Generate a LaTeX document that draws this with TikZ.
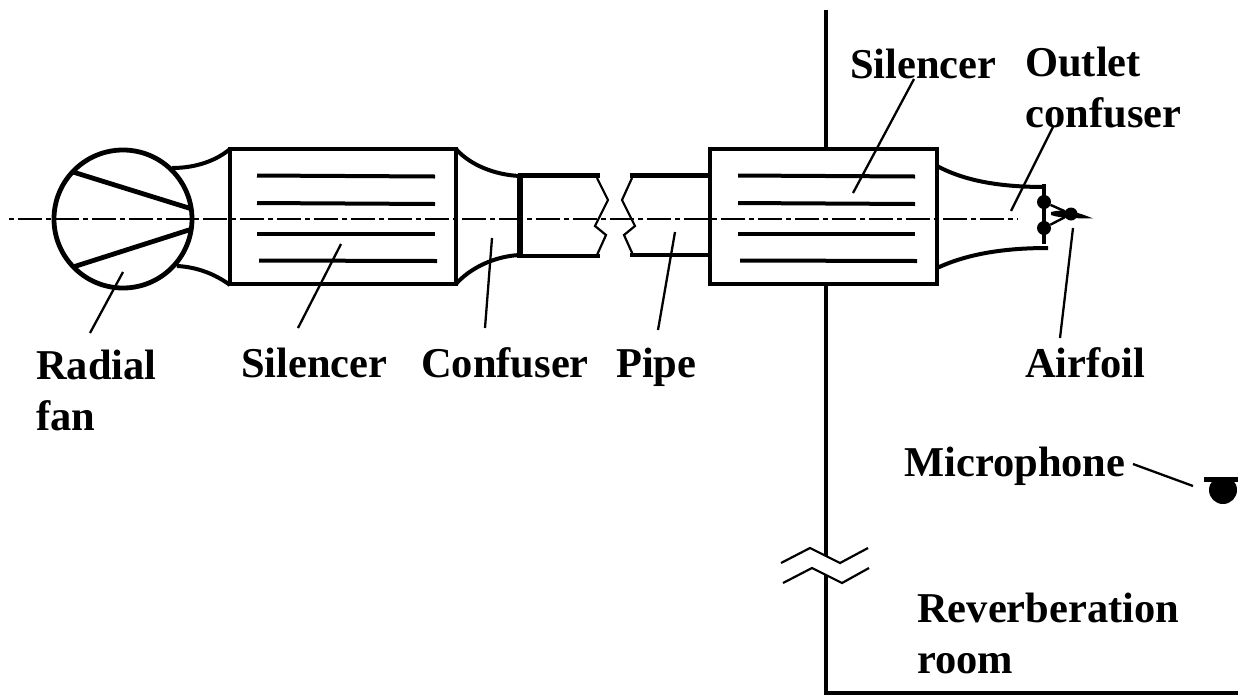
\documentclass[tikz,border=0pt]{standalone}
\usepackage{fontspec}
\setmainfont{Liberation Serif}
\tikzset{
  lbl/.style={anchor=base west,inner sep=0pt,font=\fontsize{42.5}{42.5}\selectfont\bfseries},
  wallline/.style={line width=3.6pt},
  heavy/.style={line width=4.8pt},
  thin line/.style={line width=2.2pt},
  baffle/.style={line width=4pt},
  axis/.style={line width=2.7pt,dash pattern=on 24pt off 4pt on 5pt off 4pt,dash phase=27pt},
  leader/.style={line width=2.3pt}
}
\begin{document}
\begin{tikzpicture}[x=1pt,y=-1pt]
\useasboundingbox (0,0) rectangle (1238,694);
% axis
\draw[axis] (8,219) -- (1018,219);
% wall
\draw[wallline] (826,10) -- (826,149);
\draw[wallline] (826,284) -- (826,556);
\draw[wallline] (826,575) -- (826,693) -- (1238,693);
\draw[thin line] (781,563) -- (810,548) -- (840,563) -- (868,548);
\draw[thin line] (783,583) -- (812,568) -- (842,583) -- (869,568);
% fan
\node[draw,circle,line width=4.8pt,minimum size=138pt,inner sep=0pt] (fan) at (123,219) {};
\draw[heavy] (73,172) -- (192,209);
\draw[heavy] (73,267) -- (192,229);
\draw[line width=4pt] (172,168) .. controls (197,168) and (217,160) .. (230,149);
\draw[line width=4pt] (177,266) .. controls (197,267) and (215,274) .. (230,285);
% silencer 1
\draw[heavy] (230,149) rectangle (456,284);
\foreach \a/\b/\c/\d in {257/175.5/435/176.5,257/203/435/204,257/233.5/435/233.5,259/260.5/437/261}
  \draw[baffle] (\a,\b) -- (\c,\d);
% confuser
\draw[line width=4pt] (456,149) .. controls (470,165) and (495,175) .. (520,176);
\draw[line width=4pt] (456,284) .. controls (470,268) and (495,256) .. (520,255);
\draw[line width=6pt] (520,175) -- (520,258);
% pipe
\draw[line width=5pt] (518,175.5) -- (600,175.5);
\draw[line width=4pt] (518,256) -- (600,256);
\draw[line width=5pt] (630,175.5) -- (709,175.5);
\draw[line width=4pt] (630,255) -- (709,255);
\draw[thin line] (597,178) -- (608,200) -- (595,226) -- (606,235) -- (597,255);
\draw[thin line] (632,178) -- (622,200) -- (635,226) -- (624,235) -- (633,255);
% silencer 2
\draw[heavy] (710,149) rectangle (937,284);
\foreach \a/\b/\c/\d in {738/175.5/915/176.5,738/203/915/204,738/233.5/915/233.5,740/260.5/917/261}
  \draw[baffle] (\a,\b) -- (\c,\d);
% outlet confuser
\draw[line width=4pt] (937,166) .. controls (965,181) and (1000,187) .. (1045,187);
\draw[line width=4pt] (937,268) .. controls (965,255) and (1000,248) .. (1048,248);
\draw[line width=4pt] (1044,184) -- (1044,244);
% airfoil
\node[fill,circle,minimum size=14pt,inner sep=0pt] (m1) at (1044,202) {};
\node[fill,circle,minimum size=14pt,inner sep=0pt] (m2) at (1044,228) {};
\node[fill,circle,minimum size=13pt,inner sep=0pt] (m3) at (1071,214) {};
\draw[line width=2.4pt] (m1) -- (m3);
\draw[line width=2.4pt] (m2) -- (m3);
\fill (1051,212) .. controls (1065,208) and (1080,213) .. (1093,218.5) .. controls (1080,218) and (1062,219) .. (1051,215) -- cycle;
% microphone
\node[fill,circle,minimum size=28pt,inner sep=0pt] (mic) at (1223,490) {};
\fill[white] (1204,470) rectangle (1238,478);
\fill (1204,477) rectangle (1238,482);
% labels
\node[lbl] (radial) at (36,379) {Radial};
\node[lbl] (fanl) at (36,430) {fan};
\node[lbl] (sil1) at (241,377) {Silencer};
\node[lbl] (conf) at (421,377) {Confuser};
\node[lbl] (pipe) at (616,377) {Pipe};
\node[lbl] (air) at (1025,377) {Airfoil};
\node[lbl] (micl) at (904,476) {Microphone};
\node[lbl] (rev) at (917,622) {Reverberation};
\node[lbl] (room) at (917,673) {room};
\node[lbl] (sil2) at (850,78) {Silencer};
\node[lbl] (outl) at (1025,76) {Outlet};
\node[lbl] (outc) at (1025.5,127) {confuser};
% leaders
\coordinate (l1a) at (90,333); \coordinate (l1b) at (123,272);
\coordinate (l2a) at (298,328); \coordinate (l2b) at (341,244);
\coordinate (l3a) at (485,328); \coordinate (l3b) at (492,238);
\coordinate (l4a) at (658,330); \coordinate (l4b) at (675,232);
\coordinate (l5a) at (1060,338); \coordinate (l5b) at (1073,228);
\coordinate (l6a) at (1053,127); \coordinate (l6b) at (1011,211);
\coordinate (l7a) at (914,79); \coordinate (l7b) at (853,193);
\coordinate (l8a) at (1133,464); \coordinate (l8b) at (1193,486);
\foreach \p/\q in {l1a/l1b,l2a/l2b,l3a/l3b,l4a/l4b,l5a/l5b,l6a/l6b,l7a/l7b,l8a/l8b}
  \draw[leader] (\p) -- (\q);
\end{tikzpicture}
\end{document}
